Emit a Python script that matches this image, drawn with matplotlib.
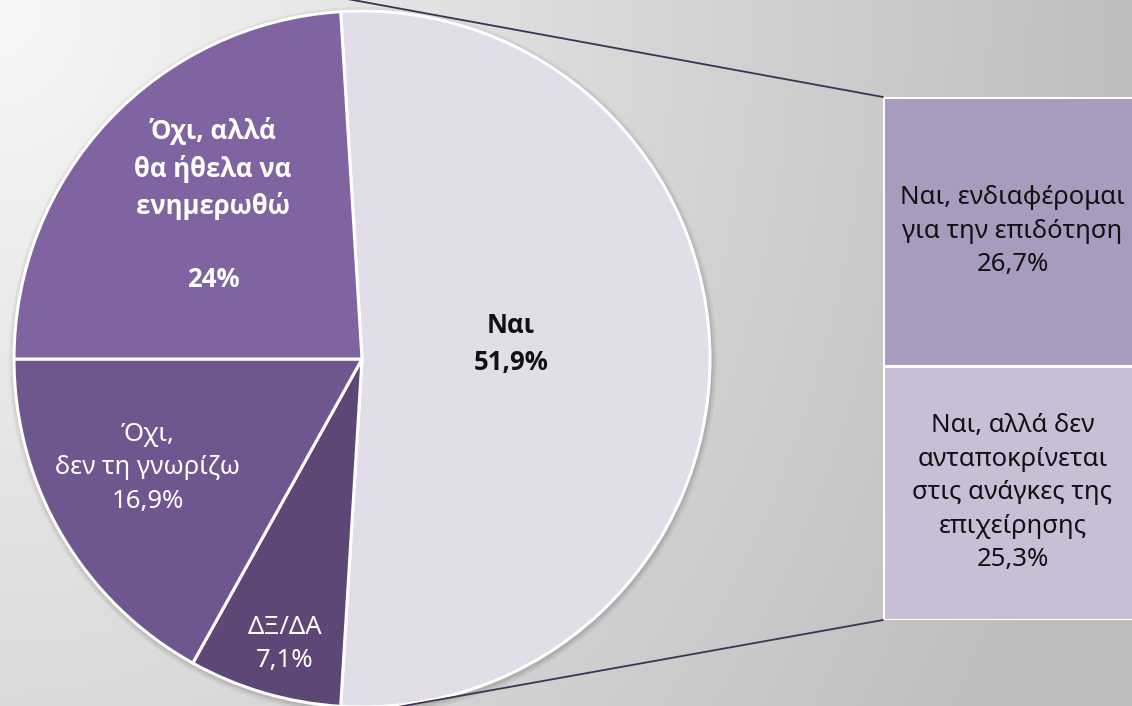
import numpy as np
import matplotlib
matplotlib.use('Agg')
import matplotlib.pyplot as plt
from matplotlib.patches import ConnectionPatch
from matplotlib import font_manager

# ---- data ----
pie_labels = ['Ναι\n51,9%', 'ΔΞ/ΔΑ\n7,1%', 'Όχι,\nδεν τη γνωρίζω\n16,9%',
              'Όχι, αλλά\nθα ήθελα να\nενημερωθώ\n\n24%']
pie_values = [51.9, 7.1, 16.9, 24.0]
pie_colors = ['#E1DEEA', '#5D4777', '#6E568F', '#8064A2']
bar_labels = ['Ναι, αλλά δεν\nανταποκρίνεται\nστις ανάγκες της\nεπιχείρησης\n25,3%',
              'Ναι, ενδιαφέρομαι\nγια την επιδότηση\n26,7%']
bar_values = [25.3, 26.7]
bar_colors = ['#C8BFD7', '#A99BBE']

# pick a family that has a real bold face
bold_fam = 'DejaVu Sans'
for fam in ['Open Sans', 'Roboto', 'Noto Sans', 'Liberation Sans']:
    try:
        p = font_manager.findfont(font_manager.FontProperties(family=fam, weight='bold'),
                                  fallback_to_default=False)
        if 'bold' in p.lower():
            bold_fam = fam
            break
    except Exception:
        pass

plt.rcParams['font.family'] = ['Noto Sans', 'DejaVu Sans']

W, H = 1132, 706
fig = plt.figure(figsize=(W / 100, H / 100), dpi=100)

# background gradient
ax_bg = fig.add_axes([0, 0, 1, 1])
xx, yy = np.meshgrid(np.linspace(0, 1, 400), np.linspace(0, 1, 250))
d = np.minimum(1.0, np.sqrt(xx ** 2 + (yy * 0.5) ** 2))
v = 0.97 - 0.225 * d
img = np.dstack([v, v, v])
ax_bg.imshow(img, extent=[0, W, H, 0], aspect='auto', interpolation='bilinear')
ax_bg.set_xlim(0, W)
ax_bg.set_ylim(H, 0)
ax_bg.axis('off')

# main axes (pixel-like coordinates, y up)
ax = fig.add_axes([0, 0, 1, 1])
ax.patch.set_alpha(0)
cx, cy, R = 362, 347, 348
span0 = pie_values[0] / sum(pie_values) * 360
# soft shadow ring
for k, a in [(6, 0.04), (4, 0.05), (2, 0.07)]:
    ax.add_patch(plt.Circle((cx + 1, cy - 2), R + k, color='black', alpha=a,
                            zorder=2, linewidth=0))
wedges, _ = ax.pie(pie_values, colors=pie_colors, startangle=span0 / 2,
                   counterclock=False, center=(cx, cy), radius=R,
                   wedgeprops=dict(edgecolor='white', linewidth=2.2))
for w in wedges:
    w.set_zorder(3)
ax.set_xlim(0, W)
ax.set_ylim(0, H)
ax.axis('off')

# pie labels
fs = 18.5
ls = 1.45
bold_list = [bold_fam, 'DejaVu Sans']
ax.text(511, 362, pie_labels[0], ha='center', va='center', fontsize=fs,
        fontweight='bold', family=bold_list, color='#111111',
        linespacing=ls, zorder=5)
ax.text(285, 62, pie_labels[1], ha='center', va='center', fontsize=fs,
        color='white', linespacing=ls, zorder=5)
ax.text(148, 238, pie_labels[2], ha='center', va='center', fontsize=fs,
        color='white', linespacing=ls, zorder=5)
ax.text(213, 501, pie_labels[3], ha='center', va='center', fontsize=fs,
        fontweight='bold', family=bold_list, color='white',
        linespacing=ls, zorder=5)

# bar of pie
bl, bb, bt = 883, 620, 97
ax_bar = fig.add_axes([bl / W, (H - bb) / H, (1142 - bl) / W, (bb - bt) / H])
bottoms = np.concatenate([[0], np.cumsum(bar_values)[:-1]])
ax_bar.bar([0, 0], bar_values, bottom=bottoms, width=1.0, color=bar_colors,
           edgecolor='white', linewidth=2.2)
ax_bar.set_xlim(-0.5, 0.5)
ax_bar.set_ylim(0, sum(bar_values))
ax_bar.axis('off')
for lab, b, hgt in zip(bar_labels, bottoms, bar_values):
    ax_bar.text(0, b + hgt / 2, lab, ha='center', va='center', fontsize=fs,
                color='#111111', linespacing=ls)

# connector lines (behind pie)
for ybar, pt in [(sum(bar_values), (342, 708)), (0, (342, -11))]:
    con = ConnectionPatch(xyA=(-0.5, ybar), coordsA=ax_bar.transData,
                          xyB=pt, coordsB=ax.transData,
                          color='#3F3151', linewidth=1.3)
    con.set_zorder(0.5)
    fig.add_artist(con)

fig.savefig('out.png', dpi=100)
